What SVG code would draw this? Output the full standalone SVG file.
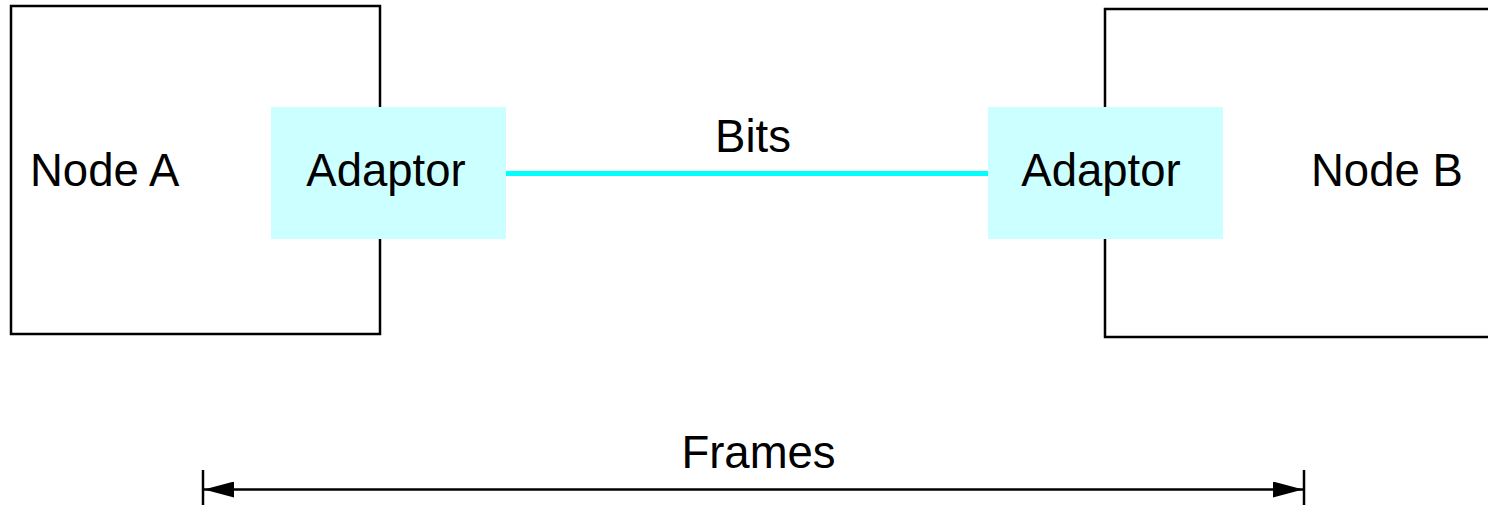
<svg xmlns="http://www.w3.org/2000/svg" width="1488" height="505" viewBox="0 0 1488 505">
<style>
.node{fill:#fff;stroke:#000;stroke-width:2.5}
.adaptor{fill:#ccffff;stroke:none}
.t{font-family:"Liberation Sans",Arial,sans-serif;font-size:45.5px;fill:#000}
</style>
<defs>
<marker id="ah" viewBox="0 0 30 16" refX="30" refY="8" markerWidth="30" markerHeight="16" markerUnits="userSpaceOnUse" orient="auto-start-reverse">
<path d="M0,0 L30,8 L0,16 Z" fill="#000"/>
</marker>
</defs>
<rect width="1488" height="505" fill="#fff"/>
<g id="nodeA">
<rect class="node" x="11" y="6" width="369" height="328"/>
<text class="t" x="30" y="186">Node A</text>
</g>
<g id="nodeB">
<rect class="node" x="1105" y="9" width="400" height="328"/>
<text class="t" x="1311" y="186">Node B</text>
</g>
<g id="adaptorA">
<rect class="adaptor" x="271" y="107" width="235" height="132"/>
<text class="t" x="386" y="186" text-anchor="middle">Adaptor</text>
</g>
<g id="adaptorB">
<rect class="adaptor" x="988" y="107" width="235" height="132"/>
<text class="t" x="1101" y="186" text-anchor="middle">Adaptor</text>
</g>
<g id="connectors">
<line x1="506" y1="173.5" x2="988" y2="173.5" stroke="#00ffff" stroke-width="5"/>
<text class="t" x="753" y="152" text-anchor="middle">Bits</text>
<line x1="203" y1="470" x2="203" y2="505" stroke="#000" stroke-width="2.5"/>
<line x1="1304" y1="470" x2="1304" y2="505" stroke="#000" stroke-width="2.5"/>
<line x1="204" y1="489.5" x2="1303" y2="489.5" stroke="#000" stroke-width="2.5" marker-start="url(#ah)" marker-end="url(#ah)"/>
<text class="t" x="758.5" y="468" text-anchor="middle">Frames</text>
</g>
</svg>
